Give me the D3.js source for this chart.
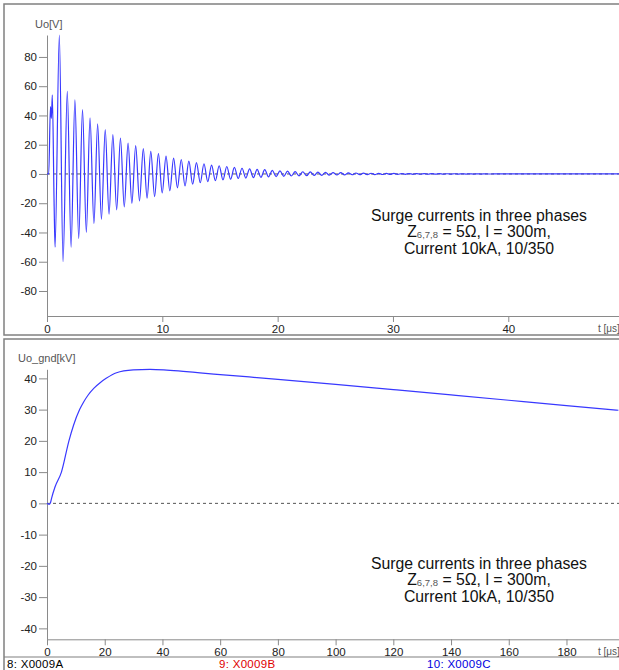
<!DOCTYPE html>
<html>
<head>
<meta charset="utf-8">
<script src="https://d3js.org/d3.v7.min.js"></script>
<style>
  body { margin: 0; background: #fff; }
  svg { display: block; font-family: "Liberation Sans", Arial, sans-serif; }
  .axis path, .axis line { stroke: #8a8a8a; }
  .axis text { fill: #222; font-size: 11.5px; font-family: "Liberation Sans", Arial, sans-serif; }
  .frame { fill: none; stroke: #808080; stroke-width: 1.5; }
  .zero { stroke: #555; stroke-dasharray: 3,3; }
</style>
</head>
<body>
<svg id="chart" width="619" height="670"></svg>
<script>
// ---- top chart: Uo [V] ----
// first irregular swings (t in us, value in V)
const uoStart = [[0, 0], [0.15, 0], [0.3, 46], [0.38, 38], [0.46, 54], [0.62, -22], [0.7, -50], [1.07, 95], [1.39, -60]];

const peakTimes = [1.76, 2.42, 3.08, 3.73, 4.39, 5.05, 5.71, 6.37, 7.03, 7.69, 8.35, 9.00, 9.66, 10.32, 10.98, 11.64,
  12.30, 12.96, 13.61, 14.27, 14.93, 15.59, 16.25, 16.91, 17.57, 18.22, 18.88, 19.54, 20.20, 20.86, 21.52, 22.18,
  22.83, 23.49, 24.15, 24.81, 25.47, 26.13, 26.79, 27.44, 28.10, 28.76, 29.42, 30.08, 30.74, 31.40, 32.05, 32.71,
  33.37, 34.03, 34.69, 35.35, 36.01, 36.66, 37.32, 37.98];
const peakValues = [56.5, 50.6, 44, 38.4, 34.3, 30.3, 26.9, 24.6, 21.1, 19.4, 17.3, 15.4, 14.0, 12.2, 10.8, 9.9,
  8.8, 7.8, 7.0, 6.1, 5.6, 5.1, 4.5, 3.9, 3.5, 3.1, 2.9, 2.5, 2.1, 1.9, 1.6, 1.5,
  1.4, 1.2, 1.1, 0.9, 0.85, 0.7, 0.65, 0.6, 0.5, 0.45, 0.4, 0.35, 0.3, 0.3, 0.25, 0.22,
  0.2, 0.18, 0.15, 0.13, 0.12, 0.1, 0.08, 0.06];

const troughTimes = [2.09, 2.75, 3.41, 4.07, 4.72, 5.38, 6.04, 6.70, 7.36, 8.02, 8.68, 9.33, 9.99, 10.65, 11.31, 11.97,
  12.63, 13.29, 13.94, 14.60, 15.26, 15.92, 16.58, 17.24, 17.90, 18.55, 19.21, 19.87, 20.53, 21.19, 21.85, 22.51,
  23.16, 23.82, 24.48, 25.14, 25.80, 26.46, 27.12, 27.77, 28.43, 29.09, 29.75, 30.41, 31.07, 31.73, 32.38, 33.04,
  33.70, 34.36, 35.02, 35.68, 36.34, 36.99, 37.65, 38.31];
const troughValues = [-50, -44, -40, -34, -31, -27.5, -24.5, -22.5, -20, -18.5, -16.5, -15.5, -13, -11.5, -9.5, -8.2,
  -7, -6, -5.2, -4.6, -4.1, -3.6, -3.1, -2.8, -2.5, -2.3, -2.0, -1.8, -1.6, -1.4, -1.3, -1.2,
  -1.0, -0.9, -0.8, -0.7, -0.65, -0.55, -0.5, -0.45, -0.4, -0.35, -0.3, -0.28, -0.25, -0.22, -0.2, -0.18,
  -0.15, -0.13, -0.12, -0.1, -0.08, -0.07, -0.05, -0.04];
const uoEnd = [[38.7, 0], [49.6, 0]];

const topXTicks = [0, 10, 20, 30, 40];
const topYTicks = [-80, -60, -40, -20, 0, 20, 40, 60, 80];

// ---- bottom chart: Uo_gnd [kV] ----
const gndTime = [0, 0.7, 1.2, 1.6, 2.8, 5.0, 7.6, 9.2, 11.3, 12.8, 14.2, 16.2, 18.4, 20.5, 24.1, 29.9, 35.7, 41.5, 47.2, 53, 60, 80, 100, 120, 140, 160, 180, 198];
const gndValue = [0, -0.3, 0.2, 1.7, 5.3, 10, 20, 25, 30, 32.6, 34.6, 36.8, 38.6, 40.0, 41.8, 42.7, 42.9, 42.65, 42.25, 41.75, 41.2, 39.7, 38.1, 36.4, 34.7, 33.0, 31.3, 29.8];

const botXTicks = [0, 20, 40, 60, 80, 100, 120, 140, 160, 180];
const botYTicks = [-40, -30, -20, -10, 0, 10, 20, 30, 40];

const noteLines = ['Surge currents in three phases', 'Current 10kA, 10/350'];
const legendItems = [
  {label: '8: X0009A', color: '#000'},
  {label: '9: X0009B', color: '#e00000'},
  {label: '10: X0009C', color: '#0000e0'}
];

let svg = d3.select('#chart');

// panel frames
svg.append('rect').attr('class', 'frame').attr('x', 4).attr('y', 4).attr('width', 640).attr('height', 331);
svg.append('rect').attr('class', 'frame').attr('x', 4).attr('y', 339).attr('width', 640).attr('height', 340);
svg.append('line').attr('x1', 4).attr('x2', 619).attr('y1', 657).attr('y2', 657)
  .attr('stroke', '#808080').attr('stroke-width', 1.2);

function drawPanel(opt) {
  let x = d3.scaleLinear().domain(opt.xDomain).range([47, 619]);
  let y = d3.scaleLinear().domain(opt.yDomain).range(opt.yRange);
  let g = svg.append('g');

  // dashed zero line
  g.append('line').attr('class', 'zero')
    .attr('x1', x(0)).attr('x2', 619).attr('y1', y(0)).attr('y2', y(0));

  g.append('g').attr('class', 'axis')
    .attr('transform', `translate(0,${opt.yRange[0]})`)
    .call(d3.axisBottom(x).tickValues(opt.xTicks).tickFormat(d => String(d))
      .tickSize(6).tickSizeOuter(0).tickPadding(3));

  g.append('g').attr('class', 'axis')
    .attr('transform', `translate(${x(0)},0)`)
    .call(d3.axisLeft(y).tickValues(opt.yTicks).tickFormat(d => String(d))
      .tickSize(8).tickSizeOuter(0).tickPadding(2));

  let line = d3.line().x(d => x(d[0])).y(d => y(d[1])).curve(d3.curveMonotoneX);
  g.append('path').datum(opt.data)
    .attr('fill', 'none').attr('stroke', '#3838ff').attr('stroke-width', 1.2)
    .attr('d', line);

  // axis titles
  g.append('text').attr('x', opt.yLabelX).attr('y', opt.yRange[1] - 7)
    .attr('font-size', 11).attr('fill', '#555').text(opt.yLabel);
  g.append('text').attr('x', 598).attr('y', opt.yRange[0] + 16)
    .attr('font-size', 10).attr('fill', '#555').text('t [\u03bcs]');

  // note block, one text per line
  let note = g.append('g').attr('text-anchor', 'middle').attr('font-size', 15.8).attr('fill', '#111');
  note.append('text').attr('x', 479).attr('y', opt.noteY).text(noteLines[0]);
  let l2 = note.append('text').attr('x', 479).attr('y', opt.noteY + 16);
  l2.append('tspan').text('Z');
  l2.append('tspan').attr('font-size', 9.5).attr('fill', '#555').attr('dy', 1).text('6,7,8');
  l2.append('tspan').attr('dy', -1).text(' = 5\u03a9, l = 300m,');
  note.append('text').attr('x', 479).attr('y', opt.noteY + 33).text(noteLines[1]);
}

let uoData = uoStart
  .concat(peakTimes.map((t, i) => [t, peakValues[i]]))
  .concat(troughTimes.map((t, i) => [t, troughValues[i]]))
  .concat(uoEnd)
  .sort((a, b) => a[0] - b[0]);

drawPanel({
  xDomain: [0, 49.6], yDomain: [-97.1, 95], yRange: [316, 35],
  xTicks: topXTicks, yTicks: topYTicks, data: uoData,
  yLabel: 'Uo[V]', yLabelX: 35, noteY: 221
});

drawPanel({
  xDomain: [0, 198.2], yDomain: [-43.5, 42.9], yRange: [639.3, 369.3],
  xTicks: botXTicks, yTicks: botYTicks, data: gndTime.map((t, i) => [t, gndValue[i]]),
  yLabel: 'Uo_gnd[kV]', yLabelX: 18, noteY: 569
});

// legend row
svg.selectAll('.legend').data(legendItems).enter().append('text')
  .attr('class', 'legend')
  .attr('x', (d, i) => [7, 219, 427][i])
  .attr('y', 668)
  .attr('font-size', 11.5)
  .attr('letter-spacing', 0.3)
  .attr('fill', d => d.color)
  .text(d => d.label);
</script>
</body>
</html>
